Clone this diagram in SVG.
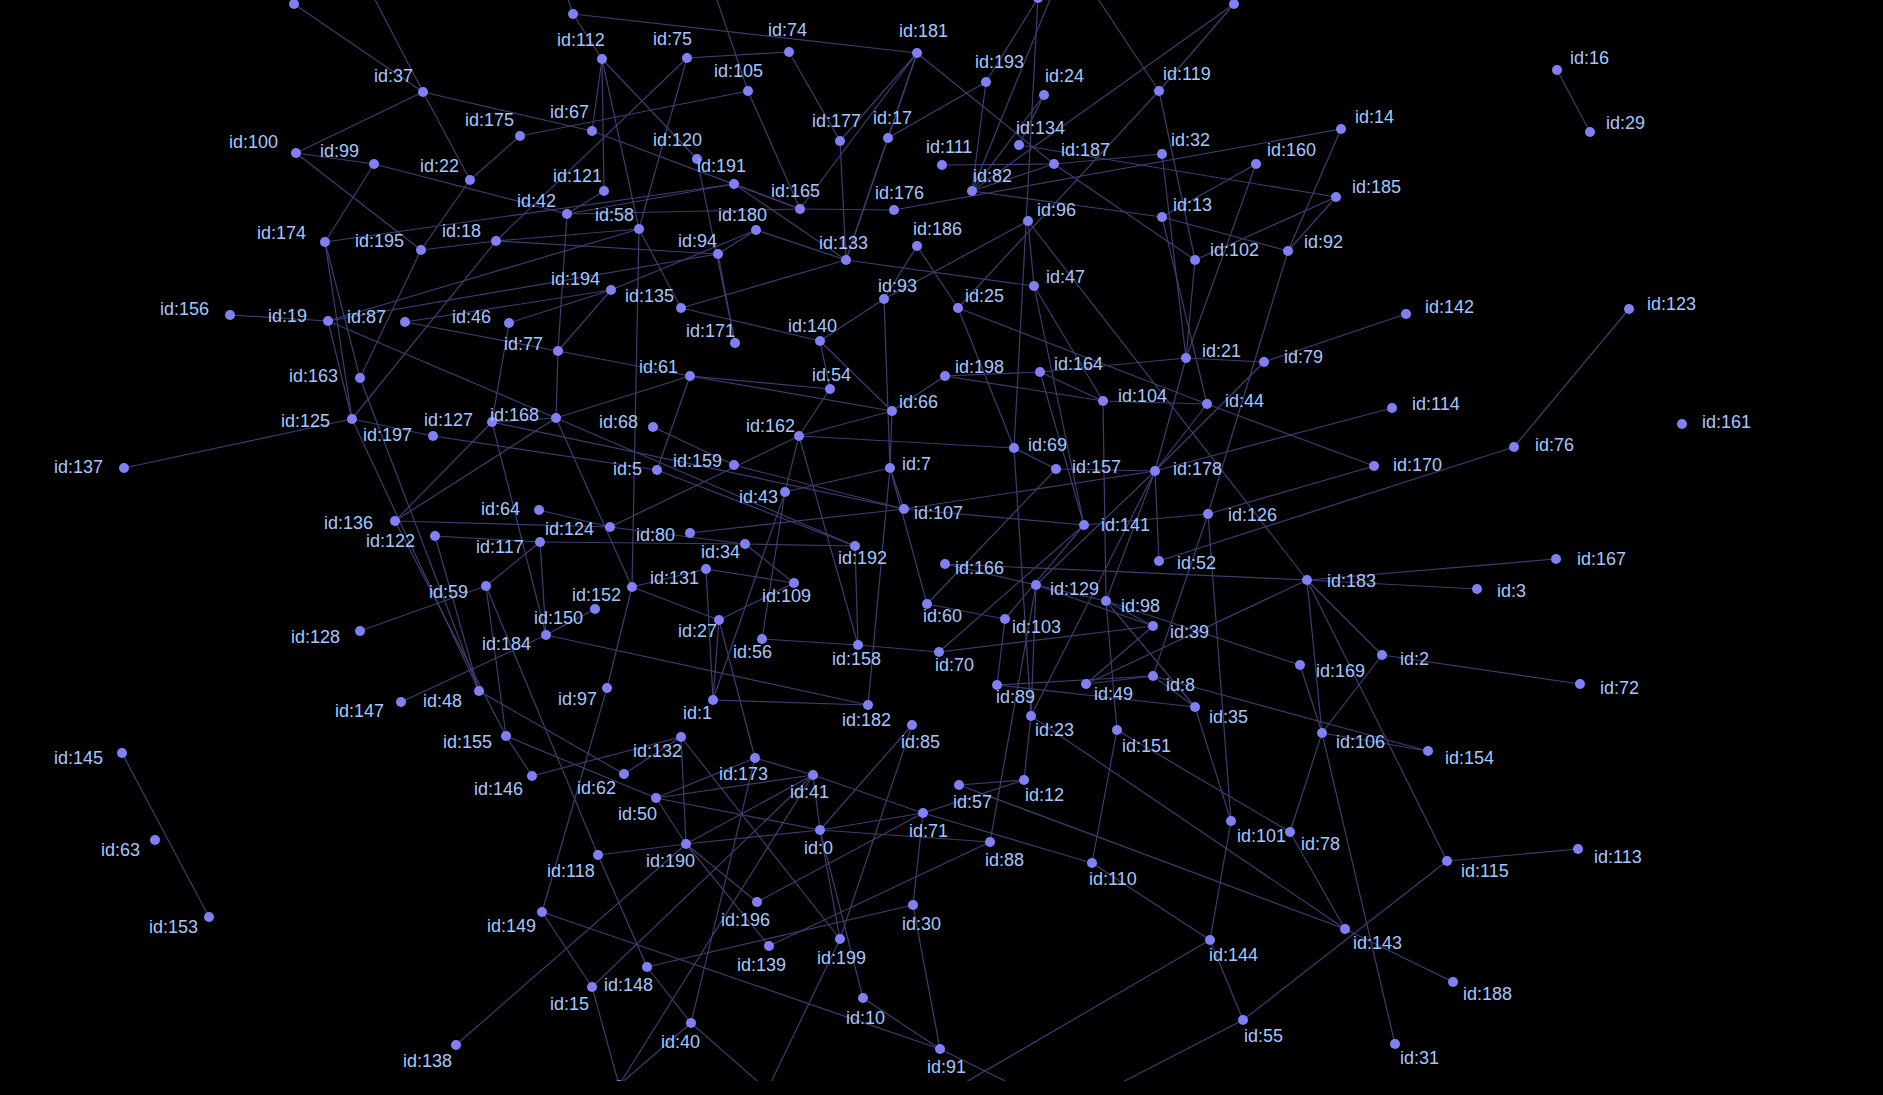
<svg xmlns="http://www.w3.org/2000/svg" width="1883" height="1095" viewBox="0 0 1883 1095">
<style>
.e{stroke:#3f3c72;stroke-width:1.2;fill:none}
.n circle{fill:#8080f4}
.n text{font-family:"Liberation Sans",Arial,sans-serif;font-size:18px;fill:#a4c6ff}
</style>
<defs><clipPath id="vis"><rect x="0" y="0" width="1883" height="1081"/></clipPath></defs>
<rect width="1883" height="1095" fill="#000"/>
<g id="edges" clip-path="url(#vis)">
<line class="e" x1="294" y1="4" x2="423" y2="92"/>
<line class="e" x1="344" y1="-60" x2="423" y2="92"/>
<line class="e" x1="423" y1="92" x2="470" y2="180"/>
<line class="e" x1="423" y1="92" x2="592" y2="131"/>
<line class="e" x1="423" y1="92" x2="296" y2="153"/>
<line class="e" x1="296" y1="153" x2="374" y2="164"/>
<line class="e" x1="296" y1="153" x2="421" y2="250"/>
<line class="e" x1="374" y1="164" x2="325" y2="242"/>
<line class="e" x1="374" y1="164" x2="567" y2="214"/>
<line class="e" x1="470" y1="180" x2="421" y2="250"/>
<line class="e" x1="470" y1="180" x2="520" y2="136"/>
<line class="e" x1="325" y1="242" x2="734" y2="184"/>
<line class="e" x1="325" y1="242" x2="352" y2="419"/>
<line class="e" x1="325" y1="242" x2="360" y2="378"/>
<line class="e" x1="421" y1="250" x2="496" y2="241"/>
<line class="e" x1="421" y1="250" x2="360" y2="378"/>
<line class="e" x1="328" y1="321" x2="230" y2="315"/>
<line class="e" x1="328" y1="321" x2="639" y2="229"/>
<line class="e" x1="328" y1="321" x2="718" y2="254"/>
<line class="e" x1="328" y1="321" x2="556" y2="418"/>
<line class="e" x1="328" y1="321" x2="352" y2="419"/>
<line class="e" x1="405" y1="322" x2="558" y2="351"/>
<line class="e" x1="558" y1="351" x2="690" y2="376"/>
<line class="e" x1="352" y1="419" x2="496" y2="241"/>
<line class="e" x1="352" y1="419" x2="433" y2="436"/>
<line class="e" x1="352" y1="419" x2="124" y2="468"/>
<line class="e" x1="352" y1="419" x2="479" y2="691"/>
<line class="e" x1="360" y1="378" x2="479" y2="691"/>
<line class="e" x1="395" y1="521" x2="506" y2="736"/>
<line class="e" x1="395" y1="521" x2="492" y2="422"/>
<line class="e" x1="395" y1="521" x2="556" y2="418"/>
<line class="e" x1="395" y1="521" x2="610" y2="527"/>
<line class="e" x1="433" y1="436" x2="657" y2="470"/>
<line class="e" x1="509" y1="323" x2="611" y2="290"/>
<line class="e" x1="509" y1="323" x2="492" y2="422"/>
<line class="e" x1="520" y1="136" x2="748" y2="91"/>
<line class="e" x1="573" y1="14" x2="917" y2="53"/>
<line class="e" x1="573" y1="14" x2="602" y2="59"/>
<line class="e" x1="573" y1="14" x2="555" y2="-40"/>
<line class="e" x1="602" y1="59" x2="604" y2="191"/>
<line class="e" x1="602" y1="59" x2="639" y2="229"/>
<line class="e" x1="602" y1="59" x2="697" y2="159"/>
<line class="e" x1="602" y1="59" x2="592" y2="131"/>
<line class="e" x1="687" y1="58" x2="789" y2="52"/>
<line class="e" x1="687" y1="58" x2="496" y2="241"/>
<line class="e" x1="687" y1="58" x2="639" y2="229"/>
<line class="e" x1="748" y1="91" x2="800" y2="209"/>
<line class="e" x1="700" y1="-50" x2="748" y2="91"/>
<line class="e" x1="592" y1="131" x2="800" y2="209"/>
<line class="e" x1="567" y1="214" x2="604" y2="191"/>
<line class="e" x1="567" y1="214" x2="734" y2="184"/>
<line class="e" x1="567" y1="214" x2="800" y2="209"/>
<line class="e" x1="567" y1="214" x2="558" y2="351"/>
<line class="e" x1="496" y1="241" x2="639" y2="229"/>
<line class="e" x1="496" y1="241" x2="718" y2="254"/>
<line class="e" x1="639" y1="229" x2="632" y2="587"/>
<line class="e" x1="639" y1="229" x2="681" y2="308"/>
<line class="e" x1="756" y1="230" x2="846" y2="260"/>
<line class="e" x1="734" y1="184" x2="846" y2="260"/>
<line class="e" x1="734" y1="184" x2="800" y2="209"/>
<line class="e" x1="718" y1="254" x2="756" y2="230"/>
<line class="e" x1="718" y1="254" x2="735" y2="343"/>
<line class="e" x1="611" y1="290" x2="756" y2="230"/>
<line class="e" x1="611" y1="290" x2="405" y2="322"/>
<line class="e" x1="611" y1="290" x2="558" y2="351"/>
<line class="e" x1="681" y1="308" x2="846" y2="260"/>
<line class="e" x1="681" y1="308" x2="820" y2="341"/>
<line class="e" x1="820" y1="341" x2="884" y2="299"/>
<line class="e" x1="884" y1="299" x2="917" y2="246"/>
<line class="e" x1="846" y1="260" x2="888" y2="138"/>
<line class="e" x1="846" y1="260" x2="917" y2="53"/>
<line class="e" x1="840" y1="141" x2="917" y2="53"/>
<line class="e" x1="917" y1="53" x2="800" y2="209"/>
<line class="e" x1="888" y1="138" x2="917" y2="53"/>
<line class="e" x1="888" y1="138" x2="986" y2="82"/>
<line class="e" x1="840" y1="141" x2="846" y2="260"/>
<line class="e" x1="789" y1="52" x2="840" y2="141"/>
<line class="e" x1="697" y1="159" x2="735" y2="343"/>
<line class="e" x1="1038" y1="-2" x2="986" y2="82"/>
<line class="e" x1="1038" y1="-2" x2="1014" y2="448"/>
<line class="e" x1="1070" y1="-50" x2="972" y2="191"/>
<line class="e" x1="1059" y1="-60" x2="1159" y2="91"/>
<line class="e" x1="1234" y1="4" x2="1159" y2="91"/>
<line class="e" x1="1234" y1="4" x2="972" y2="191"/>
<line class="e" x1="1159" y1="91" x2="958" y2="308"/>
<line class="e" x1="1159" y1="91" x2="1195" y2="260"/>
<line class="e" x1="1162" y1="154" x2="1054" y2="164"/>
<line class="e" x1="1162" y1="154" x2="1186" y2="358"/>
<line class="e" x1="1341" y1="129" x2="1288" y2="251"/>
<line class="e" x1="1341" y1="129" x2="894" y2="210"/>
<line class="e" x1="1256" y1="164" x2="1162" y2="217"/>
<line class="e" x1="1256" y1="164" x2="1186" y2="358"/>
<line class="e" x1="1336" y1="197" x2="1019" y2="145"/>
<line class="e" x1="1336" y1="197" x2="1195" y2="260"/>
<line class="e" x1="1336" y1="197" x2="1288" y2="251"/>
<line class="e" x1="1162" y1="217" x2="972" y2="191"/>
<line class="e" x1="1162" y1="217" x2="1288" y2="251"/>
<line class="e" x1="1162" y1="217" x2="1207" y2="404"/>
<line class="e" x1="1054" y1="164" x2="1195" y2="260"/>
<line class="e" x1="1195" y1="260" x2="1186" y2="358"/>
<line class="e" x1="1288" y1="251" x2="1208" y2="514"/>
<line class="e" x1="1406" y1="314" x2="1264" y2="362"/>
<line class="e" x1="1044" y1="95" x2="1019" y2="145"/>
<line class="e" x1="1044" y1="95" x2="972" y2="191"/>
<line class="e" x1="986" y1="82" x2="972" y2="191"/>
<line class="e" x1="942" y1="165" x2="1054" y2="164"/>
<line class="e" x1="972" y1="191" x2="1054" y2="164"/>
<line class="e" x1="917" y1="53" x2="1054" y2="164"/>
<line class="e" x1="1028" y1="221" x2="1034" y2="286"/>
<line class="e" x1="1028" y1="221" x2="1307" y2="580"/>
<line class="e" x1="1028" y1="221" x2="884" y2="299"/>
<line class="e" x1="1034" y1="286" x2="1084" y2="525"/>
<line class="e" x1="1034" y1="286" x2="1103" y2="401"/>
<line class="e" x1="1034" y1="286" x2="846" y2="260"/>
<line class="e" x1="958" y1="308" x2="1014" y2="448"/>
<line class="e" x1="958" y1="308" x2="1207" y2="404"/>
<line class="e" x1="917" y1="246" x2="958" y2="308"/>
<line class="e" x1="1186" y1="358" x2="1264" y2="362"/>
<line class="e" x1="1040" y1="372" x2="1186" y2="358"/>
<line class="e" x1="1557" y1="70" x2="1590" y2="132"/>
<line class="e" x1="1514" y1="447" x2="1629" y2="309"/>
<line class="e" x1="1103" y1="401" x2="1207" y2="404"/>
<line class="e" x1="1040" y1="372" x2="1103" y2="401"/>
<line class="e" x1="945" y1="376" x2="1103" y2="401"/>
<line class="e" x1="945" y1="376" x2="1040" y2="372"/>
<line class="e" x1="945" y1="376" x2="892" y2="411"/>
<line class="e" x1="1207" y1="404" x2="1374" y2="466"/>
<line class="e" x1="1392" y1="408" x2="1155" y2="471"/>
<line class="e" x1="1208" y1="514" x2="1374" y2="466"/>
<line class="e" x1="1159" y1="561" x2="1514" y2="447"/>
<line class="e" x1="1040" y1="372" x2="1084" y2="525"/>
<line class="e" x1="1103" y1="401" x2="1106" y2="601"/>
<line class="e" x1="1207" y1="404" x2="1155" y2="471"/>
<line class="e" x1="1155" y1="471" x2="1056" y2="469"/>
<line class="e" x1="1155" y1="471" x2="904" y2="509"/>
<line class="e" x1="1155" y1="471" x2="1159" y2="561"/>
<line class="e" x1="1155" y1="471" x2="1106" y2="601"/>
<line class="e" x1="1155" y1="471" x2="1036" y2="585"/>
<line class="e" x1="1155" y1="471" x2="1031" y2="716"/>
<line class="e" x1="1155" y1="471" x2="1186" y2="358"/>
<line class="e" x1="1155" y1="471" x2="1264" y2="362"/>
<line class="e" x1="1014" y1="448" x2="1056" y2="469"/>
<line class="e" x1="1014" y1="448" x2="799" y2="436"/>
<line class="e" x1="1014" y1="448" x2="1031" y2="716"/>
<line class="e" x1="1056" y1="469" x2="927" y2="604"/>
<line class="e" x1="1084" y1="525" x2="904" y2="509"/>
<line class="e" x1="1084" y1="525" x2="1208" y2="514"/>
<line class="e" x1="1084" y1="525" x2="939" y2="652"/>
<line class="e" x1="1208" y1="514" x2="1153" y2="676"/>
<line class="e" x1="1208" y1="514" x2="1231" y2="821"/>
<line class="e" x1="945" y1="564" x2="1307" y2="580"/>
<line class="e" x1="1307" y1="580" x2="1556" y2="559"/>
<line class="e" x1="1307" y1="580" x2="1477" y2="589"/>
<line class="e" x1="1307" y1="580" x2="1382" y2="655"/>
<line class="e" x1="1307" y1="580" x2="1322" y2="733"/>
<line class="e" x1="1307" y1="580" x2="1086" y2="684"/>
<line class="e" x1="1307" y1="580" x2="1447" y2="861"/>
<line class="e" x1="1382" y1="655" x2="1580" y2="684"/>
<line class="e" x1="1382" y1="655" x2="1322" y2="733"/>
<line class="e" x1="1300" y1="665" x2="1322" y2="733"/>
<line class="e" x1="1300" y1="665" x2="1106" y2="601"/>
<line class="e" x1="1153" y1="626" x2="1106" y2="601"/>
<line class="e" x1="1153" y1="626" x2="1086" y2="684"/>
<line class="e" x1="1106" y1="601" x2="1195" y2="707"/>
<line class="e" x1="1106" y1="601" x2="1117" y2="730"/>
<line class="e" x1="1153" y1="676" x2="1086" y2="684"/>
<line class="e" x1="1153" y1="676" x2="1195" y2="707"/>
<line class="e" x1="1153" y1="676" x2="1428" y2="751"/>
<line class="e" x1="997" y1="685" x2="1005" y2="619"/>
<line class="e" x1="997" y1="685" x2="1153" y2="676"/>
<line class="e" x1="997" y1="685" x2="1195" y2="707"/>
<line class="e" x1="1031" y1="716" x2="1036" y2="585"/>
<line class="e" x1="1036" y1="585" x2="1106" y2="601"/>
<line class="e" x1="1036" y1="585" x2="1153" y2="626"/>
<line class="e" x1="1005" y1="619" x2="1084" y2="525"/>
<line class="e" x1="927" y1="604" x2="1005" y2="619"/>
<line class="e" x1="945" y1="564" x2="1036" y2="585"/>
<line class="e" x1="939" y1="652" x2="1153" y2="626"/>
<line class="e" x1="690" y1="376" x2="830" y2="389"/>
<line class="e" x1="690" y1="376" x2="556" y2="418"/>
<line class="e" x1="690" y1="376" x2="657" y2="470"/>
<line class="e" x1="690" y1="376" x2="892" y2="411"/>
<line class="e" x1="556" y1="418" x2="492" y2="422"/>
<line class="e" x1="556" y1="418" x2="632" y2="587"/>
<line class="e" x1="556" y1="418" x2="855" y2="546"/>
<line class="e" x1="558" y1="351" x2="556" y2="418"/>
<line class="e" x1="492" y1="422" x2="546" y2="635"/>
<line class="e" x1="492" y1="422" x2="904" y2="509"/>
<line class="e" x1="653" y1="427" x2="734" y2="465"/>
<line class="e" x1="657" y1="470" x2="855" y2="546"/>
<line class="e" x1="734" y1="465" x2="904" y2="509"/>
<line class="e" x1="799" y1="436" x2="785" y2="492"/>
<line class="e" x1="799" y1="436" x2="892" y2="411"/>
<line class="e" x1="799" y1="436" x2="830" y2="389"/>
<line class="e" x1="799" y1="436" x2="610" y2="527"/>
<line class="e" x1="799" y1="436" x2="858" y2="645"/>
<line class="e" x1="785" y1="492" x2="890" y2="468"/>
<line class="e" x1="785" y1="492" x2="713" y2="700"/>
<line class="e" x1="890" y1="468" x2="904" y2="509"/>
<line class="e" x1="890" y1="468" x2="892" y2="411"/>
<line class="e" x1="890" y1="468" x2="868" y2="705"/>
<line class="e" x1="890" y1="468" x2="927" y2="604"/>
<line class="e" x1="904" y1="509" x2="690" y2="533"/>
<line class="e" x1="540" y1="542" x2="745" y2="544"/>
<line class="e" x1="540" y1="542" x2="546" y2="635"/>
<line class="e" x1="540" y1="542" x2="486" y2="586"/>
<line class="e" x1="435" y1="536" x2="540" y2="542"/>
<line class="e" x1="435" y1="536" x2="479" y2="691"/>
<line class="e" x1="745" y1="544" x2="794" y2="583"/>
<line class="e" x1="745" y1="544" x2="855" y2="546"/>
<line class="e" x1="610" y1="527" x2="745" y2="544"/>
<line class="e" x1="539" y1="510" x2="610" y2="527"/>
<line class="e" x1="706" y1="569" x2="632" y2="587"/>
<line class="e" x1="706" y1="569" x2="794" y2="583"/>
<line class="e" x1="706" y1="569" x2="713" y2="700"/>
<line class="e" x1="632" y1="587" x2="719" y2="620"/>
<line class="e" x1="632" y1="587" x2="607" y2="688"/>
<line class="e" x1="546" y1="635" x2="595" y2="609"/>
<line class="e" x1="546" y1="635" x2="868" y2="705"/>
<line class="e" x1="401" y1="702" x2="546" y2="635"/>
<line class="e" x1="360" y1="631" x2="486" y2="586"/>
<line class="e" x1="486" y1="586" x2="506" y2="736"/>
<line class="e" x1="486" y1="586" x2="598" y2="855"/>
<line class="e" x1="479" y1="691" x2="624" y2="774"/>
<line class="e" x1="719" y1="620" x2="794" y2="583"/>
<line class="e" x1="762" y1="639" x2="858" y2="645"/>
<line class="e" x1="762" y1="639" x2="785" y2="492"/>
<line class="e" x1="858" y1="645" x2="855" y2="546"/>
<line class="e" x1="858" y1="645" x2="939" y2="652"/>
<line class="e" x1="719" y1="620" x2="713" y2="700"/>
<line class="e" x1="713" y1="700" x2="868" y2="705"/>
<line class="e" x1="820" y1="341" x2="892" y2="411"/>
<line class="e" x1="820" y1="341" x2="830" y2="389"/>
<line class="e" x1="884" y1="299" x2="890" y2="468"/>
<line class="e" x1="800" y1="209" x2="894" y2="210"/>
<line class="e" x1="506" y1="736" x2="532" y2="776"/>
<line class="e" x1="506" y1="736" x2="656" y2="798"/>
<line class="e" x1="532" y1="776" x2="681" y2="737"/>
<line class="e" x1="681" y1="737" x2="624" y2="774"/>
<line class="e" x1="681" y1="737" x2="686" y2="844"/>
<line class="e" x1="681" y1="737" x2="840" y2="939"/>
<line class="e" x1="755" y1="758" x2="813" y2="775"/>
<line class="e" x1="755" y1="758" x2="656" y2="798"/>
<line class="e" x1="755" y1="758" x2="719" y2="620"/>
<line class="e" x1="813" y1="775" x2="656" y2="798"/>
<line class="e" x1="813" y1="775" x2="923" y2="813"/>
<line class="e" x1="813" y1="775" x2="820" y2="830"/>
<line class="e" x1="813" y1="775" x2="686" y2="844"/>
<line class="e" x1="813" y1="775" x2="592" y2="987"/>
<line class="e" x1="813" y1="775" x2="619" y2="1085"/>
<line class="e" x1="820" y1="830" x2="686" y2="844"/>
<line class="e" x1="820" y1="830" x2="923" y2="813"/>
<line class="e" x1="820" y1="830" x2="840" y2="939"/>
<line class="e" x1="820" y1="830" x2="863" y2="998"/>
<line class="e" x1="820" y1="830" x2="912" y2="725"/>
<line class="e" x1="820" y1="830" x2="990" y2="842"/>
<line class="e" x1="656" y1="798" x2="686" y2="844"/>
<line class="e" x1="656" y1="798" x2="820" y2="830"/>
<line class="e" x1="686" y1="844" x2="598" y2="855"/>
<line class="e" x1="686" y1="844" x2="757" y2="902"/>
<line class="e" x1="686" y1="844" x2="769" y2="946"/>
<line class="e" x1="598" y1="855" x2="647" y2="967"/>
<line class="e" x1="542" y1="912" x2="592" y2="987"/>
<line class="e" x1="542" y1="912" x2="940" y2="1049"/>
<line class="e" x1="542" y1="912" x2="607" y2="688"/>
<line class="e" x1="647" y1="967" x2="691" y2="1023"/>
<line class="e" x1="647" y1="967" x2="913" y2="905"/>
<line class="e" x1="592" y1="987" x2="619" y2="1085"/>
<line class="e" x1="691" y1="1023" x2="619" y2="1085"/>
<line class="e" x1="691" y1="1023" x2="755" y2="758"/>
<line class="e" x1="691" y1="1023" x2="780" y2="1101"/>
<line class="e" x1="757" y1="902" x2="923" y2="813"/>
<line class="e" x1="769" y1="946" x2="990" y2="842"/>
<line class="e" x1="840" y1="939" x2="912" y2="725"/>
<line class="e" x1="840" y1="939" x2="760" y2="1105"/>
<line class="e" x1="863" y1="998" x2="940" y2="1049"/>
<line class="e" x1="913" y1="905" x2="923" y2="813"/>
<line class="e" x1="913" y1="905" x2="940" y2="1049"/>
<line class="e" x1="940" y1="1049" x2="1050" y2="1103"/>
<line class="e" x1="456" y1="1045" x2="686" y2="844"/>
<line class="e" x1="959" y1="785" x2="1024" y2="780"/>
<line class="e" x1="959" y1="785" x2="1345" y2="929"/>
<line class="e" x1="1024" y1="780" x2="1031" y2="716"/>
<line class="e" x1="1024" y1="780" x2="923" y2="813"/>
<line class="e" x1="990" y1="842" x2="1036" y2="585"/>
<line class="e" x1="1092" y1="863" x2="1117" y2="730"/>
<line class="e" x1="1092" y1="863" x2="1210" y2="940"/>
<line class="e" x1="1092" y1="863" x2="923" y2="813"/>
<line class="e" x1="1210" y1="940" x2="1231" y2="821"/>
<line class="e" x1="1210" y1="940" x2="1243" y2="1020"/>
<line class="e" x1="1210" y1="940" x2="930" y2="1103"/>
<line class="e" x1="1243" y1="1020" x2="1447" y2="861"/>
<line class="e" x1="1243" y1="1020" x2="1080" y2="1104"/>
<line class="e" x1="1231" y1="821" x2="1195" y2="707"/>
<line class="e" x1="1290" y1="832" x2="1322" y2="733"/>
<line class="e" x1="1290" y1="832" x2="1345" y2="929"/>
<line class="e" x1="1290" y1="832" x2="1117" y2="730"/>
<line class="e" x1="1345" y1="929" x2="1031" y2="716"/>
<line class="e" x1="1322" y1="733" x2="1395" y2="1044"/>
<line class="e" x1="1345" y1="929" x2="1453" y2="982"/>
<line class="e" x1="1322" y1="733" x2="1428" y2="751"/>
<line class="e" x1="1447" y1="861" x2="1578" y2="849"/>
<line class="e" x1="122" y1="753" x2="209" y2="917"/>
</g>
<g clip-path="url(#vis)">
<g class="n" id="node-T1"><circle cx="294" cy="4" r="5"/></g>
<g class="n" id="node-T2"><circle cx="573" cy="14" r="5"/></g>
<g class="n" id="node-T3"><circle cx="1038" cy="-2" r="5"/></g>
<g class="n" id="node-T4"><circle cx="1234" cy="4" r="5"/></g>
<g class="n" id="node-B1"><circle cx="619" cy="1085" r="5"/></g>
<g class="n" id="node-0"><circle cx="820" cy="830" r="5"/><text x="804" y="854">id:0</text></g>
<g class="n" id="node-1"><circle cx="713" cy="700" r="5"/><text x="683" y="719">id:1</text></g>
<g class="n" id="node-2"><circle cx="1382" cy="655" r="5"/><text x="1400" y="665">id:2</text></g>
<g class="n" id="node-3"><circle cx="1477" cy="589" r="5"/><text x="1497" y="597">id:3</text></g>
<g class="n" id="node-5"><circle cx="657" cy="470" r="5"/><text x="613" y="475">id:5</text></g>
<g class="n" id="node-7"><circle cx="890" cy="468" r="5"/><text x="902" y="470">id:7</text></g>
<g class="n" id="node-8"><circle cx="1153" cy="676" r="5"/><text x="1166" y="691">id:8</text></g>
<g class="n" id="node-10"><circle cx="863" cy="998" r="5"/><text x="846" y="1024">id:10</text></g>
<g class="n" id="node-12"><circle cx="1024" cy="780" r="5"/><text x="1025" y="801">id:12</text></g>
<g class="n" id="node-13"><circle cx="1162" cy="217" r="5"/><text x="1173" y="211">id:13</text></g>
<g class="n" id="node-14"><circle cx="1341" cy="129" r="5"/><text x="1355" y="123">id:14</text></g>
<g class="n" id="node-15"><circle cx="592" cy="987" r="5"/><text x="550" y="1010">id:15</text></g>
<g class="n" id="node-16"><circle cx="1557" cy="70" r="5"/><text x="1570" y="64">id:16</text></g>
<g class="n" id="node-17"><circle cx="888" cy="138" r="5"/><text x="873" y="124">id:17</text></g>
<g class="n" id="node-18"><circle cx="496" cy="241" r="5"/><text x="442" y="237">id:18</text></g>
<g class="n" id="node-19"><circle cx="328" cy="321" r="5"/><text x="268" y="322">id:19</text></g>
<g class="n" id="node-21"><circle cx="1186" cy="358" r="5"/><text x="1202" y="357">id:21</text></g>
<g class="n" id="node-22"><circle cx="470" cy="180" r="5"/><text x="420" y="172">id:22</text></g>
<g class="n" id="node-23"><circle cx="1031" cy="716" r="5"/><text x="1035" y="736">id:23</text></g>
<g class="n" id="node-24"><circle cx="1044" cy="95" r="5"/><text x="1045" y="82">id:24</text></g>
<g class="n" id="node-25"><circle cx="958" cy="308" r="5"/><text x="965" y="302">id:25</text></g>
<g class="n" id="node-27"><circle cx="719" cy="620" r="5"/><text x="678" y="637">id:27</text></g>
<g class="n" id="node-29"><circle cx="1590" cy="132" r="5"/><text x="1606" y="129">id:29</text></g>
<g class="n" id="node-30"><circle cx="913" cy="905" r="5"/><text x="902" y="930">id:30</text></g>
<g class="n" id="node-31"><circle cx="1395" cy="1044" r="5"/><text x="1400" y="1064">id:31</text></g>
<g class="n" id="node-32"><circle cx="1162" cy="154" r="5"/><text x="1171" y="146">id:32</text></g>
<g class="n" id="node-34"><circle cx="745" cy="544" r="5"/><text x="701" y="558">id:34</text></g>
<g class="n" id="node-35"><circle cx="1195" cy="707" r="5"/><text x="1209" y="723">id:35</text></g>
<g class="n" id="node-37"><circle cx="423" cy="92" r="5"/><text x="374" y="82">id:37</text></g>
<g class="n" id="node-39"><circle cx="1153" cy="626" r="5"/><text x="1170" y="638">id:39</text></g>
<g class="n" id="node-40"><circle cx="691" cy="1023" r="5"/><text x="661" y="1048">id:40</text></g>
<g class="n" id="node-41"><circle cx="813" cy="775" r="5"/><text x="790" y="798">id:41</text></g>
<g class="n" id="node-42"><circle cx="567" cy="214" r="5"/><text x="517" y="207">id:42</text></g>
<g class="n" id="node-43"><circle cx="785" cy="492" r="5"/><text x="739" y="503">id:43</text></g>
<g class="n" id="node-44"><circle cx="1207" cy="404" r="5"/><text x="1225" y="407">id:44</text></g>
<g class="n" id="node-46"><circle cx="509" cy="323" r="5"/><text x="452" y="323">id:46</text></g>
<g class="n" id="node-47"><circle cx="1034" cy="286" r="5"/><text x="1046" y="283">id:47</text></g>
<g class="n" id="node-48"><circle cx="479" cy="691" r="5"/><text x="423" y="707">id:48</text></g>
<g class="n" id="node-49"><circle cx="1086" cy="684" r="5"/><text x="1094" y="700">id:49</text></g>
<g class="n" id="node-50"><circle cx="656" cy="798" r="5"/><text x="618" y="820">id:50</text></g>
<g class="n" id="node-52"><circle cx="1159" cy="561" r="5"/><text x="1177" y="569">id:52</text></g>
<g class="n" id="node-54"><circle cx="830" cy="389" r="5"/><text x="812" y="381">id:54</text></g>
<g class="n" id="node-55"><circle cx="1243" cy="1020" r="5"/><text x="1244" y="1042">id:55</text></g>
<g class="n" id="node-56"><circle cx="762" cy="639" r="5"/><text x="733" y="658">id:56</text></g>
<g class="n" id="node-57"><circle cx="959" cy="785" r="5"/><text x="953" y="808">id:57</text></g>
<g class="n" id="node-58"><circle cx="639" cy="229" r="5"/><text x="595" y="221">id:58</text></g>
<g class="n" id="node-59"><circle cx="486" cy="586" r="5"/><text x="429" y="598">id:59</text></g>
<g class="n" id="node-60"><circle cx="927" cy="604" r="5"/><text x="923" y="622">id:60</text></g>
<g class="n" id="node-61"><circle cx="690" cy="376" r="5"/><text x="639" y="373">id:61</text></g>
<g class="n" id="node-62"><circle cx="624" cy="774" r="5"/><text x="577" y="794">id:62</text></g>
<g class="n" id="node-63"><circle cx="155" cy="840" r="5"/><text x="101" y="856">id:63</text></g>
<g class="n" id="node-64"><circle cx="539" cy="510" r="5"/><text x="481" y="515">id:64</text></g>
<g class="n" id="node-66"><circle cx="892" cy="411" r="5"/><text x="899" y="408">id:66</text></g>
<g class="n" id="node-67"><circle cx="592" cy="131" r="5"/><text x="550" y="118">id:67</text></g>
<g class="n" id="node-68"><circle cx="653" cy="427" r="5"/><text x="599" y="428">id:68</text></g>
<g class="n" id="node-69"><circle cx="1014" cy="448" r="5"/><text x="1028" y="451">id:69</text></g>
<g class="n" id="node-70"><circle cx="939" cy="652" r="5"/><text x="935" y="671">id:70</text></g>
<g class="n" id="node-71"><circle cx="923" cy="813" r="5"/><text x="909" y="837">id:71</text></g>
<g class="n" id="node-72"><circle cx="1580" cy="684" r="5"/><text x="1600" y="694">id:72</text></g>
<g class="n" id="node-74"><circle cx="789" cy="52" r="5"/><text x="768" y="36">id:74</text></g>
<g class="n" id="node-75"><circle cx="687" cy="58" r="5"/><text x="653" y="45">id:75</text></g>
<g class="n" id="node-76"><circle cx="1514" cy="447" r="5"/><text x="1535" y="451">id:76</text></g>
<g class="n" id="node-77"><circle cx="558" cy="351" r="5"/><text x="504" y="350">id:77</text></g>
<g class="n" id="node-78"><circle cx="1290" cy="832" r="5"/><text x="1301" y="850">id:78</text></g>
<g class="n" id="node-79"><circle cx="1264" cy="362" r="5"/><text x="1284" y="363">id:79</text></g>
<g class="n" id="node-80"><circle cx="690" cy="533" r="5"/><text x="636" y="541">id:80</text></g>
<g class="n" id="node-82"><circle cx="972" cy="191" r="5"/><text x="973" y="182">id:82</text></g>
<g class="n" id="node-85"><circle cx="912" cy="725" r="5"/><text x="901" y="748">id:85</text></g>
<g class="n" id="node-87"><circle cx="405" cy="322" r="5"/><text x="347" y="323">id:87</text></g>
<g class="n" id="node-88"><circle cx="990" cy="842" r="5"/><text x="985" y="866">id:88</text></g>
<g class="n" id="node-89"><circle cx="997" cy="685" r="5"/><text x="996" y="703">id:89</text></g>
<g class="n" id="node-91"><circle cx="940" cy="1049" r="5"/><text x="927" y="1073">id:91</text></g>
<g class="n" id="node-92"><circle cx="1288" cy="251" r="5"/><text x="1304" y="248">id:92</text></g>
<g class="n" id="node-93"><circle cx="884" cy="299" r="5"/><text x="878" y="292">id:93</text></g>
<g class="n" id="node-94"><circle cx="718" cy="254" r="5"/><text x="678" y="247">id:94</text></g>
<g class="n" id="node-96"><circle cx="1028" cy="221" r="5"/><text x="1037" y="216">id:96</text></g>
<g class="n" id="node-97"><circle cx="607" cy="688" r="5"/><text x="558" y="705">id:97</text></g>
<g class="n" id="node-98"><circle cx="1106" cy="601" r="5"/><text x="1121" y="612">id:98</text></g>
<g class="n" id="node-99"><circle cx="374" cy="164" r="5"/><text x="320" y="157">id:99</text></g>
<g class="n" id="node-100"><circle cx="296" cy="153" r="5"/><text x="229" y="148">id:100</text></g>
<g class="n" id="node-101"><circle cx="1231" cy="821" r="5"/><text x="1237" y="842">id:101</text></g>
<g class="n" id="node-102"><circle cx="1195" cy="260" r="5"/><text x="1210" y="256">id:102</text></g>
<g class="n" id="node-103"><circle cx="1005" cy="619" r="5"/><text x="1012" y="633">id:103</text></g>
<g class="n" id="node-104"><circle cx="1103" cy="401" r="5"/><text x="1118" y="402">id:104</text></g>
<g class="n" id="node-105"><circle cx="748" cy="91" r="5"/><text x="714" y="77">id:105</text></g>
<g class="n" id="node-106"><circle cx="1322" cy="733" r="5"/><text x="1336" y="748">id:106</text></g>
<g class="n" id="node-107"><circle cx="904" cy="509" r="5"/><text x="914" y="519">id:107</text></g>
<g class="n" id="node-109"><circle cx="794" cy="583" r="5"/><text x="762" y="602">id:109</text></g>
<g class="n" id="node-110"><circle cx="1092" cy="863" r="5"/><text x="1089" y="885">id:110</text></g>
<g class="n" id="node-111"><circle cx="942" cy="165" r="5"/><text x="926" y="153">id:111</text></g>
<g class="n" id="node-112"><circle cx="602" cy="59" r="5"/><text x="557" y="46">id:112</text></g>
<g class="n" id="node-113"><circle cx="1578" cy="849" r="5"/><text x="1594" y="863">id:113</text></g>
<g class="n" id="node-114"><circle cx="1392" cy="408" r="5"/><text x="1412" y="410">id:114</text></g>
<g class="n" id="node-115"><circle cx="1447" cy="861" r="5"/><text x="1461" y="877">id:115</text></g>
<g class="n" id="node-117"><circle cx="540" cy="542" r="5"/><text x="476" y="553">id:117</text></g>
<g class="n" id="node-118"><circle cx="598" cy="855" r="5"/><text x="547" y="877">id:118</text></g>
<g class="n" id="node-119"><circle cx="1159" cy="91" r="5"/><text x="1163" y="80">id:119</text></g>
<g class="n" id="node-120"><circle cx="697" cy="159" r="5"/><text x="653" y="146">id:120</text></g>
<g class="n" id="node-121"><circle cx="604" cy="191" r="5"/><text x="553" y="182">id:121</text></g>
<g class="n" id="node-122"><circle cx="435" cy="536" r="5"/><text x="366" y="547">id:122</text></g>
<g class="n" id="node-123"><circle cx="1629" cy="309" r="5"/><text x="1647" y="310">id:123</text></g>
<g class="n" id="node-124"><circle cx="610" cy="527" r="5"/><text x="545" y="535">id:124</text></g>
<g class="n" id="node-125"><circle cx="352" cy="419" r="5"/><text x="281" y="427">id:125</text></g>
<g class="n" id="node-126"><circle cx="1208" cy="514" r="5"/><text x="1228" y="521">id:126</text></g>
<g class="n" id="node-127"><circle cx="492" cy="422" r="5"/><text x="424" y="426">id:127</text></g>
<g class="n" id="node-128"><circle cx="360" cy="631" r="5"/><text x="291" y="643">id:128</text></g>
<g class="n" id="node-129"><circle cx="1036" cy="585" r="5"/><text x="1050" y="595">id:129</text></g>
<g class="n" id="node-131"><circle cx="706" cy="569" r="5"/><text x="650" y="584">id:131</text></g>
<g class="n" id="node-132"><circle cx="681" cy="737" r="5"/><text x="633" y="757">id:132</text></g>
<g class="n" id="node-133"><circle cx="846" cy="260" r="5"/><text x="819" y="249">id:133</text></g>
<g class="n" id="node-134"><circle cx="1019" cy="145" r="5"/><text x="1016" y="134">id:134</text></g>
<g class="n" id="node-135"><circle cx="681" cy="308" r="5"/><text x="625" y="302">id:135</text></g>
<g class="n" id="node-136"><circle cx="395" cy="521" r="5"/><text x="324" y="529">id:136</text></g>
<g class="n" id="node-137"><circle cx="124" cy="468" r="5"/><text x="54" y="473">id:137</text></g>
<g class="n" id="node-138"><circle cx="456" cy="1045" r="5"/><text x="403" y="1067">id:138</text></g>
<g class="n" id="node-139"><circle cx="769" cy="946" r="5"/><text x="737" y="971">id:139</text></g>
<g class="n" id="node-140"><circle cx="820" cy="341" r="5"/><text x="788" y="332">id:140</text></g>
<g class="n" id="node-141"><circle cx="1084" cy="525" r="5"/><text x="1101" y="531">id:141</text></g>
<g class="n" id="node-142"><circle cx="1406" cy="314" r="5"/><text x="1425" y="313">id:142</text></g>
<g class="n" id="node-143"><circle cx="1345" cy="929" r="5"/><text x="1353" y="949">id:143</text></g>
<g class="n" id="node-144"><circle cx="1210" cy="940" r="5"/><text x="1209" y="961">id:144</text></g>
<g class="n" id="node-145"><circle cx="122" cy="753" r="5"/><text x="54" y="764">id:145</text></g>
<g class="n" id="node-146"><circle cx="532" cy="776" r="5"/><text x="474" y="795">id:146</text></g>
<g class="n" id="node-147"><circle cx="401" cy="702" r="5"/><text x="335" y="717">id:147</text></g>
<g class="n" id="node-148"><circle cx="647" cy="967" r="5"/><text x="604" y="991">id:148</text></g>
<g class="n" id="node-149"><circle cx="542" cy="912" r="5"/><text x="487" y="932">id:149</text></g>
<g class="n" id="node-150"><circle cx="595" cy="609" r="5"/><text x="534" y="624">id:150</text></g>
<g class="n" id="node-151"><circle cx="1117" cy="730" r="5"/><text x="1122" y="752">id:151</text></g>
<g class="n" id="node-152"><circle cx="632" cy="587" r="5"/><text x="572" y="601">id:152</text></g>
<g class="n" id="node-153"><circle cx="209" cy="917" r="5"/><text x="149" y="933">id:153</text></g>
<g class="n" id="node-154"><circle cx="1428" cy="751" r="5"/><text x="1445" y="764">id:154</text></g>
<g class="n" id="node-155"><circle cx="506" cy="736" r="5"/><text x="443" y="748">id:155</text></g>
<g class="n" id="node-156"><circle cx="230" cy="315" r="5"/><text x="160" y="315">id:156</text></g>
<g class="n" id="node-157"><circle cx="1056" cy="469" r="5"/><text x="1072" y="473">id:157</text></g>
<g class="n" id="node-158"><circle cx="858" cy="645" r="5"/><text x="832" y="665">id:158</text></g>
<g class="n" id="node-159"><circle cx="734" cy="465" r="5"/><text x="673" y="467">id:159</text></g>
<g class="n" id="node-160"><circle cx="1256" cy="164" r="5"/><text x="1267" y="156">id:160</text></g>
<g class="n" id="node-161"><circle cx="1682" cy="424" r="5"/><text x="1702" y="428">id:161</text></g>
<g class="n" id="node-162"><circle cx="799" cy="436" r="5"/><text x="746" y="432">id:162</text></g>
<g class="n" id="node-163"><circle cx="360" cy="378" r="5"/><text x="289" y="382">id:163</text></g>
<g class="n" id="node-164"><circle cx="1040" cy="372" r="5"/><text x="1054" y="370">id:164</text></g>
<g class="n" id="node-165"><circle cx="800" cy="209" r="5"/><text x="771" y="197">id:165</text></g>
<g class="n" id="node-166"><circle cx="945" cy="564" r="5"/><text x="955" y="574">id:166</text></g>
<g class="n" id="node-167"><circle cx="1556" cy="559" r="5"/><text x="1577" y="565">id:167</text></g>
<g class="n" id="node-168"><circle cx="556" cy="418" r="5"/><text x="490" y="421">id:168</text></g>
<g class="n" id="node-169"><circle cx="1300" cy="665" r="5"/><text x="1316" y="677">id:169</text></g>
<g class="n" id="node-170"><circle cx="1374" cy="466" r="5"/><text x="1393" y="471">id:170</text></g>
<g class="n" id="node-171"><circle cx="735" cy="343" r="5"/><text x="686" y="337">id:171</text></g>
<g class="n" id="node-173"><circle cx="755" cy="758" r="5"/><text x="719" y="780">id:173</text></g>
<g class="n" id="node-174"><circle cx="325" cy="242" r="5"/><text x="257" y="239">id:174</text></g>
<g class="n" id="node-175"><circle cx="520" cy="136" r="5"/><text x="465" y="126">id:175</text></g>
<g class="n" id="node-176"><circle cx="894" cy="210" r="5"/><text x="875" y="199">id:176</text></g>
<g class="n" id="node-177"><circle cx="840" cy="141" r="5"/><text x="812" y="127">id:177</text></g>
<g class="n" id="node-178"><circle cx="1155" cy="471" r="5"/><text x="1173" y="475">id:178</text></g>
<g class="n" id="node-180"><circle cx="756" cy="230" r="5"/><text x="718" y="221">id:180</text></g>
<g class="n" id="node-181"><circle cx="917" cy="53" r="5"/><text x="899" y="37">id:181</text></g>
<g class="n" id="node-182"><circle cx="868" cy="705" r="5"/><text x="842" y="726">id:182</text></g>
<g class="n" id="node-183"><circle cx="1307" cy="580" r="5"/><text x="1327" y="587">id:183</text></g>
<g class="n" id="node-184"><circle cx="546" cy="635" r="5"/><text x="482" y="650">id:184</text></g>
<g class="n" id="node-185"><circle cx="1336" cy="197" r="5"/><text x="1352" y="193">id:185</text></g>
<g class="n" id="node-186"><circle cx="917" cy="246" r="5"/><text x="913" y="235">id:186</text></g>
<g class="n" id="node-187"><circle cx="1054" cy="164" r="5"/><text x="1061" y="156">id:187</text></g>
<g class="n" id="node-188"><circle cx="1453" cy="982" r="5"/><text x="1463" y="1000">id:188</text></g>
<g class="n" id="node-190"><circle cx="686" cy="844" r="5"/><text x="646" y="867">id:190</text></g>
<g class="n" id="node-191"><circle cx="734" cy="184" r="5"/><text x="697" y="172">id:191</text></g>
<g class="n" id="node-192"><circle cx="855" cy="546" r="5"/><text x="838" y="564">id:192</text></g>
<g class="n" id="node-193"><circle cx="986" cy="82" r="5"/><text x="975" y="68">id:193</text></g>
<g class="n" id="node-194"><circle cx="611" cy="290" r="5"/><text x="551" y="285">id:194</text></g>
<g class="n" id="node-195"><circle cx="421" cy="250" r="5"/><text x="355" y="247">id:195</text></g>
<g class="n" id="node-196"><circle cx="757" cy="902" r="5"/><text x="721" y="926">id:196</text></g>
<g class="n" id="node-197"><circle cx="433" cy="436" r="5"/><text x="363" y="441">id:197</text></g>
<g class="n" id="node-198"><circle cx="945" cy="376" r="5"/><text x="955" y="373">id:198</text></g>
<g class="n" id="node-199"><circle cx="840" cy="939" r="5"/><text x="817" y="964">id:199</text></g>
</g>
</svg>
